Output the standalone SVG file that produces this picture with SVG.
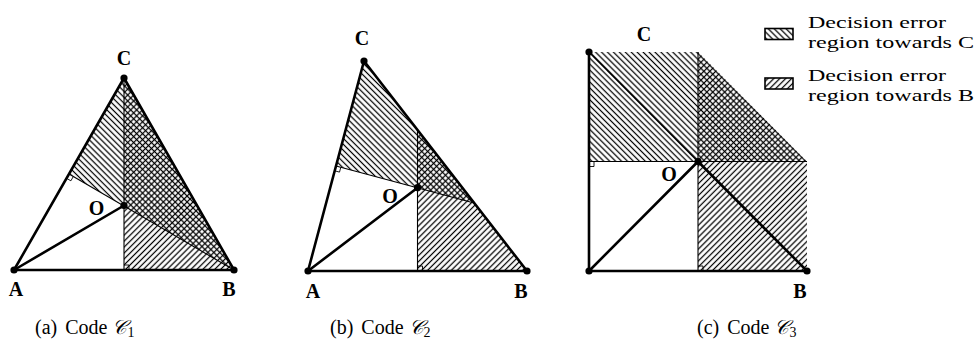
<svg xmlns="http://www.w3.org/2000/svg" width="977" height="353" viewBox="0 0 977 353">
<defs>
<pattern id="hatchC" width="4.2" height="4.2" patternUnits="userSpaceOnUse" patternTransform="rotate(-45)">
<line x1="2.1" y1="-1" x2="2.1" y2="5.2" stroke="#000" stroke-width="1.25"/>
</pattern>
<pattern id="hatchB" width="4.2" height="4.2" patternUnits="userSpaceOnUse" patternTransform="rotate(45)">
<line x1="2.1" y1="-1" x2="2.1" y2="5.2" stroke="#000" stroke-width="1.25"/>
</pattern>
</defs>
<style>
.rC{fill:url(#hatchC);stroke:none}
.rB{fill:url(#hatchB);stroke:none}
.thick{stroke:#000;stroke-width:2.6;fill:none;stroke-linecap:round;stroke-linejoin:round}
.mid{stroke:#000;stroke-width:1.6;fill:none}
.thin{stroke:#000;stroke-width:1.1;fill:none}
.ra{stroke:#000;stroke-width:0.9;fill:none}
.dot{fill:#000}
.lbl{font-family:"Liberation Serif","Times New Roman",serif;font-weight:bold;font-size:20px;fill:#000;text-anchor:middle}
.leg{font-family:"Liberation Serif","Times New Roman",serif;font-size:17.5px;fill:#000}
.cap{font-family:"Liberation Serif","DejaVu Serif",serif;font-size:20px;fill:#000}
.box{stroke:#000;stroke-width:1.6}
</style>

<!-- Panel (a) -->
<g id="panel-a">
<g id="a-regions">
<polygon class="rC" points="69,174 124,78 234,270"/>
<polygon class="rB" points="124,78 234,270 124,270"/>
</g>
<g id="a-connectors">
<polyline class="thick" points="234,270 14,270 124,78 234,270"/>
<line class="thick" x1="14" y1="270" x2="124" y2="205.5"/>
<line class="thin" x1="124" y1="78" x2="124" y2="270"/>
<line class="thin" x1="69" y1="174" x2="234" y2="270"/>
<polyline class="ra" points="66.5,178.3 70.9,180.8 73.3,176.5"/>
<polyline class="ra" points="124,265 129,265 129,270"/>
</g>
<g id="a-node-A"><circle class="dot" cx="14" cy="270" r="3.6"/><text class="lbl" x="16" y="296">A</text></g>
<g id="a-node-B"><circle class="dot" cx="234" cy="270" r="3.6"/><text class="lbl" x="229" y="296">B</text></g>
<g id="a-node-C"><circle class="dot" cx="124" cy="78" r="3.6"/><text class="lbl" x="124" y="65">C</text></g>
<g id="a-node-O"><circle class="dot" cx="124" cy="205.5" r="3.6"/><text class="lbl" x="96.5" y="215">O</text></g>
</g>

<!-- Panel (b) -->
<g id="panel-b">
<g id="b-regions">
<polygon class="rC" points="336,166 364,61 474,203"/>
<polygon class="rB" points="417.5,130 527,271 417.5,271"/>
</g>
<g id="b-connectors">
<polyline class="thick" points="527,271 308,271 364,61 527,271"/>
<line class="thick" x1="308" y1="271" x2="417.5" y2="187.7"/>
<line class="thin" x1="417.5" y1="130" x2="417.5" y2="271"/>
<line class="thin" x1="336" y1="166" x2="474" y2="203"/>
<polyline class="ra" points="334.7,170.8 339.5,172.1 340.8,167.3"/>
<polyline class="ra" points="417.5,266 422.5,266 422.5,271"/>
</g>
<g id="b-node-A"><circle class="dot" cx="308" cy="271" r="3.6"/><text class="lbl" x="313" y="298">A</text></g>
<g id="b-node-B"><circle class="dot" cx="527" cy="271" r="3.6"/><text class="lbl" x="521" y="298">B</text></g>
<g id="b-node-C"><circle class="dot" cx="364" cy="61" r="3.6"/><text class="lbl" x="362" y="45">C</text></g>
<g id="b-node-O"><circle class="dot" cx="417.5" cy="187.7" r="3.6"/><text class="lbl" x="390" y="203">O</text></g>
</g>

<!-- Panel (c) -->
<g id="panel-c">
<g id="c-regions">
<polygon class="rC" points="589,52 698,52 807,161.5 589,161.5"/>
<polygon class="rB" points="698,52 807,161.5 807,271 698,271"/>
</g>
<g id="c-connectors">
<polyline class="thick" points="589,52 589,271 807,271"/>
<line class="thick" x1="589" y1="271" x2="698" y2="161.5"/>
<line class="thick" x1="698" y1="161.5" x2="807" y2="271"/>
<line class="mid" x1="589" y1="52" x2="698" y2="161.5"/>
<line class="thin" x1="589" y1="161.5" x2="807" y2="161.5"/>
<line class="thin" x1="698" y1="52" x2="698" y2="271"/>
<polyline class="ra" points="589,166.5 594,166.5 594,161.5"/>
<polyline class="ra" points="698,266 703,266 703,271"/>
</g>
<g id="c-node-A"><circle class="dot" cx="589" cy="271" r="3.6"/></g>
<g id="c-node-B"><circle class="dot" cx="807" cy="271" r="3.6"/><text class="lbl" x="800" y="298">B</text></g>
<g id="c-node-C"><circle class="dot" cx="589" cy="52" r="3.6"/><text class="lbl" x="644" y="41">C</text></g>
<g id="c-node-O"><circle class="dot" cx="698" cy="161.5" r="3.6"/><text class="lbl" x="669" y="181">O</text></g>
</g>

<!-- Legend -->
<g id="legend">
<rect class="box" x="765" y="28.5" width="28" height="11" fill="url(#hatchC)"/>
<text class="leg" x="808" y="28" textLength="138" lengthAdjust="spacingAndGlyphs">Decision error</text>
<text class="leg" x="808" y="47.5" textLength="166" lengthAdjust="spacingAndGlyphs">region towards C</text>
<rect class="box" x="765" y="78" width="28" height="11" fill="url(#hatchB)"/>
<text class="leg" x="808" y="81" textLength="138" lengthAdjust="spacingAndGlyphs">Decision error</text>
<text class="leg" x="808" y="100.5" textLength="166" lengthAdjust="spacingAndGlyphs">region towards B</text>
</g>

<!-- Captions -->
<g id="captions">
<text class="cap" x="35" y="334">(a) <tspan dx="3">Code</tspan> <tspan font-style="italic">𝒞</tspan><tspan font-size="14" dy="3">1</tspan></text>
<text class="cap" x="330" y="334">(b) <tspan dx="3">Code</tspan> <tspan font-style="italic">𝒞</tspan><tspan font-size="14" dy="3">2</tspan></text>
<text class="cap" x="697" y="334">(c) <tspan dx="3">Code</tspan> <tspan font-style="italic">𝒞</tspan><tspan font-size="14" dy="3">3</tspan></text>
</g>
</svg>
